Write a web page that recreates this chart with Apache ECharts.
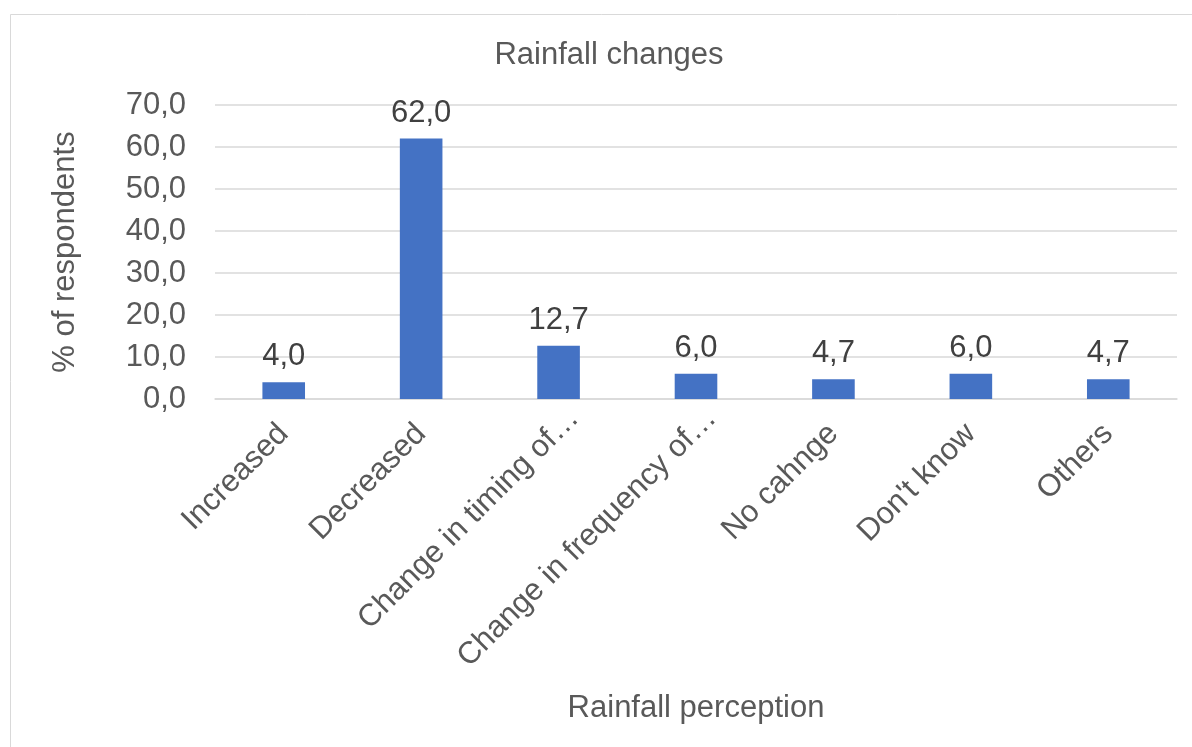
<!DOCTYPE html>
<html>
<head>
<meta charset="utf-8">
<script src="https://cdn.jsdelivr.net/npm/echarts@6/dist/echarts.min.js"></script>
<style>
	html, body { margin: 0; padding: 0; background: #fff; }
	#chart { width: 1192px; height: 747px; }
</style>
</head>
<body>
<div id="chart"></div>
<script>
	// data
	var categories = ['Increased', 'Decreased', 'Change in timing of\u2026', 'Change in frequency of\u2026', 'No cahnge', "Don't know", 'Others'];
	var values = [4.0, 62.0, 12.7, 6.0, 4.7, 6.0, 4.7];
	var yTicks = [0, 10, 20, 30, 40, 50, 60, 70];

	var font = 'Liberation Sans, Arial, sans-serif';
	var grey = '#595959';

	function comma(v) {
		return Number(v).toFixed(1).replace('.', ',');
	}

	// excel draws its truncated labels a bit further along the slant
	var catItems = categories.map(function(c) {
		if (c.indexOf('\u2026') > -1) {
			return { value: c, textStyle: { padding: [0, -22, 0, 0] } };
		}
		return c;
	});

	var chart = echarts.init(document.getElementById('chart'));
	chart.setOption({
		animation: false,
		backgroundColor: '#fff',
		graphic: [{
			type: 'rect',
			shape: { x: 10.5, y: 14.5, width: 1200, height: 760 },
			style: { fill: 'none', stroke: '#d9d9d9', lineWidth: 1 },
			silent: true
		}],
		title: {
			text: 'Rainfall changes',
			left: 604,
			top: 35,
			textAlign: 'center',
			textStyle: { fontFamily: font, fontSize: 31, fontWeight: 'normal', color: grey }
		},
		grid: { left: 215, right: 15, top: 105, bottom: 348 },
		xAxis: {
			type: 'category',
			data: catItems,
			name: 'Rainfall perception',
			nameLocation: 'middle',
			nameGap: 294,
			nameTextStyle: { fontFamily: font, fontSize: 31, color: grey },
			axisLine: { lineStyle: { color: '#d9d9d9', width: 1.5 } },
			axisTick: { show: false },
			axisLabel: {
				rotate: 45,
				interval: 0,
				margin: 30,
				fontFamily: font,
				fontSize: 31,
				color: grey
			}
		},
		yAxis: {
			type: 'value',
			min: yTicks[0],
			max: yTicks[yTicks.length - 1],
			interval: 10,
			name: '% of respondents',
			nameLocation: 'middle',
			nameRotate: 90,
			nameGap: 134,
			nameTextStyle: { fontFamily: font, fontSize: 31, color: grey },
			axisLine: { show: false },
			axisTick: { show: false },
			splitLine: { lineStyle: { color: '#d9d9d9', width: 1.5 } },
			axisLabel: {
				margin: 29,
				fontFamily: font,
				fontSize: 31,
				color: grey,
				formatter: comma
			}
		},
		series: [{
			type: 'bar',
			data: values,
			barWidth: '31%',
			itemStyle: { color: '#4472c4' },
			label: {
				show: true,
				position: 'top',
				distance: 10,
				fontFamily: font,
				fontSize: 31,
				color: '#404040',
				formatter: function(p) { return comma(p.value); }
			}
		}]
	});
</script>
</body>
</html>
